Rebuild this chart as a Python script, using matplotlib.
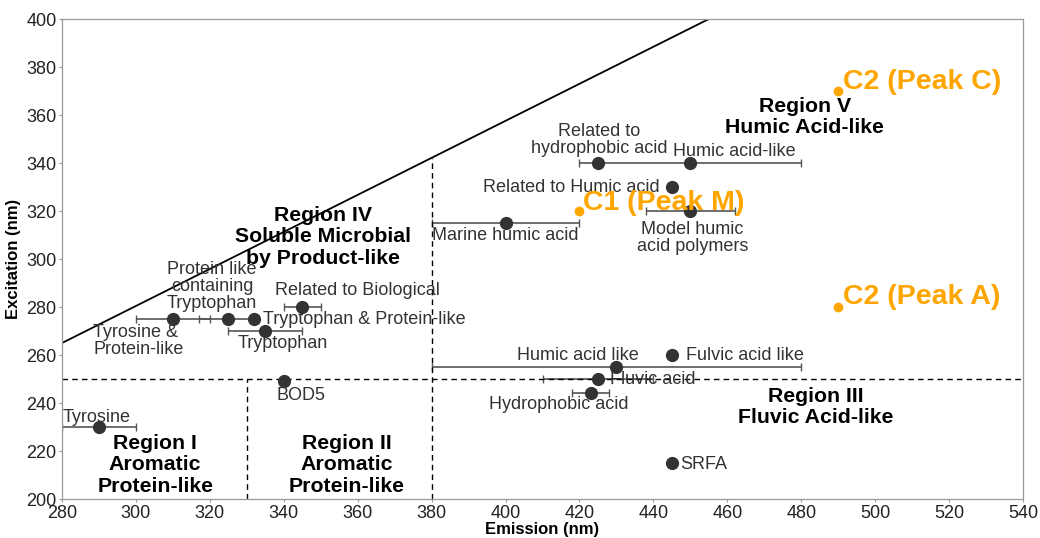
import matplotlib
matplotlib.use("Agg")
import matplotlib.pyplot as plt

plt.rcParams['font.family'] = ['Liberation Sans', 'DejaVu Sans']

# Data points (emission, excitation)
names = ["Tyrosine", "Tyrosine & Protein-like", "Protein like containing Tryptophan",
         "Tryptophan & Protein-like", "Tryptophan", "Related to Biological", "BOD5",
         "Marine humic acid", "Related to hydrophobic acid", "Humic acid-like",
         "Related to Humic acid", "Model humic acid polymers", "Humic acid like",
         "Fulvic acid like", "Fluvic acid", "Hydrophobic acid", "SRFA"]
em = [290, 310, 325, 332, 335, 345, 340, 400, 425, 450, 445, 450, 430, 445, 425, 423, 445]
ex = [230, 275, 275, 275, 270, 280, 249, 315, 340, 340, 330, 320, 255, 260, 250, 244, 215]
err_lo = [280, 300, 317, None, 325, 340, None, 380, None, 420, None, 438, 380, None, 410, 418, None]
err_hi = [300, 320, 333, None, 345, 350, None, 420, None, 480, None, 462, 480, None, 440, 428, None]

peak_names = ["C1 (Peak M)", "C2 (Peak C)", "C2 (Peak A)"]
peak_em = [420, 490, 490]
peak_ex = [320, 370, 280]

boundary_em = [280, 455]
boundary_ex = [265, 400]

fig = plt.figure(figsize=(10.4, 5.38), dpi=100)
ax = fig.add_axes([62/1040, 39/538, (1023-62)/1040, (499-19)/538])

dark = "#333333"
grey = "#555555"

# error bars
for e, x, lo, hi in zip(em, ex, err_lo, err_hi):
    if lo is not None:
        ax.errorbar([e], [x], xerr=[[e - lo], [hi - e]], fmt="none", ecolor=grey,
                    elinewidth=1.2, capsize=3, capthick=1.0, zorder=2)
ax.plot(em, ex, "o", color=dark, ms=8.5, zorder=3, linestyle="none")
ax.plot(peak_em, peak_ex, "o", color="#FFA500", ms=6, zorder=3, linestyle="none")

# boundary line
ax.plot(boundary_em, boundary_ex, color="black", lw=1.3, zorder=1)

# dashed region lines
ax.plot([280, 540], [250, 250], ls=(0, (4, 3)), color="black", lw=1.0)
ax.plot([330, 330], [200, 250], ls=(0, (4, 3)), color="black", lw=1.0)
x_line = 380
y_top = boundary_ex[0] + (x_line - boundary_em[0]) * (boundary_ex[1] - boundary_ex[0]) / (boundary_em[1] - boundary_em[0])
ax.plot([x_line, x_line], [200, y_top], ls=(0, (4, 3)), color="black", lw=1.0)

# labels
lbl = dict(fontsize=13, color="#333333", va="center")
ax.text(280.3, 233.8, "Tyrosine", ha="left", **lbl)
ax.text(288.4, 266, "Tyrosine &\nProtein-like", ha="left", linespacing=1.0, **lbl)
ax.text(320.6, 288.5, "Protein like\ncontaining\nTryptophan", ha="center", linespacing=0.98, **lbl)
ax.text(337.6, 286.7, "Related to Biological", ha="left", **lbl)
ax.text(334.4, 274.6, "Tryptophan & Protein-like", ha="left", **lbl)
ax.text(327.6, 264.6, "Tryptophan", ha="left", **lbl)
ax.text(338, 243.3, "BOD5", ha="left", **lbl)
ax.text(425.3, 349.6, "Related to\nhydrophobic acid", ha="center", linespacing=0.98, **lbl)
ax.text(445.4, 344.6, "Humic acid-like", ha="left", **lbl)
ax.text(394, 329.6, "Related to Humic acid", ha="left", **lbl)
ax.text(380, 309.6, "Marine humic acid", ha="left", **lbl)
ax.text(450.5, 308.8, "Model humic\nacid polymers", ha="center", linespacing=0.98, **lbl)
ax.text(403, 259.6, "Humic acid like", ha="left", **lbl)
ax.text(448.9, 259.6, "Fulvic acid like", ha="left", **lbl)
ax.text(428.3, 249.6, "Fluvic acid", ha="left", **lbl)
ax.text(395.6, 239.2, "Hydrophobic acid", ha="left", **lbl)
ax.text(447.2, 214.2, "SRFA", ha="left", **lbl)

pk = dict(fontsize=20.5, color="#FFA500", fontweight="bold", va="center", ha="left")
ax.text(421, 323.2, peak_names[0], **pk)
ax.text(491.4, 373.7, peak_names[1], **pk)
ax.text(491.4, 284.2, peak_names[2], **pk)

rg = dict(fontsize=15.3, color="black", fontweight="bold", va="center", ha="center", linespacing=1.15)
ax.text(305.2, 214.2, "Region I\nAromatic\nProtein-like", **rg)
ax.text(357, 214.2, "Region II\nAromatic\nProtein-like", **rg)
ax.text(484, 238.3, "Region III\nFluvic Acid-like", **rg)
ax.text(350.6, 309.2, "Region IV\nSoluble Microbial\nby Product-like", **rg)
ax.text(481, 359.2, "Region V\nHumic Acid-like", **rg)

ax.set_xlim(280, 540)
ax.set_ylim(200, 400)
ax.set_xticks(range(280, 541, 20))
ax.set_yticks(range(200, 401, 20))
ax.tick_params(axis="both", labelsize=13, colors="#999999", labelcolor="#222222", length=2.5, width=0.8, pad=1.5)
for s in ax.spines.values():
    s.set_color("#999999")
    s.set_linewidth(0.9)
ax.set_xlabel("Emission (nm)", fontsize=12, fontweight="bold", labelpad=0)
ax.set_ylabel("Excitation (nm)", fontsize=12, fontweight="bold", labelpad=4)

fig.savefig("out.png", dpi=100)
